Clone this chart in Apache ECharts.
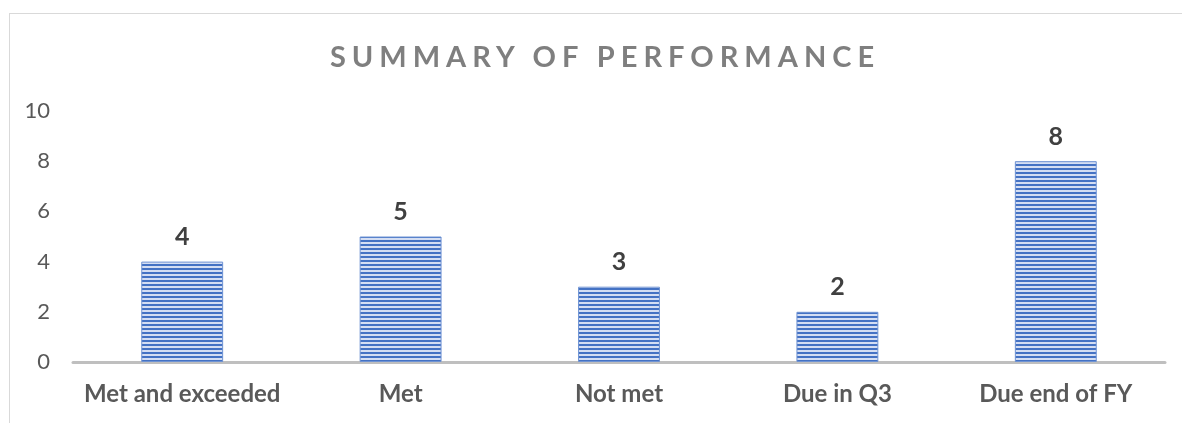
<!DOCTYPE html>
<html>
<head>
<meta charset="utf-8">
<title>Summary of performance</title>
<script src="https://cdn.jsdelivr.net/npm/echarts@6/dist/echarts.min.js"></script>
<style>
  html, body { margin: 0; padding: 0; background: #fff; }
  #wrap { position: relative; width: 1182px; height: 423px; overflow: hidden; }
  #frame { position: absolute; left: 9px; top: 13px; width: 1200px; height: 450px; border: 1px solid #d9d9d9; box-sizing: border-box; }
  #title { position: absolute; left: 14px; width: 1182px; top: 38px; text-align: center;
           font-family: Lato, sans-serif; font-weight: bold; font-size: 29px; letter-spacing: 6px; color: #7f7f7f; }
  #chart { position: absolute; left: 0; top: 0; width: 1182px; height: 423px; }
</style>
</head>
<body>
<div id="wrap">
  <div id="frame"></div>
  <div id="chart"></div>
  <div id="title">SUMMARY OF PERFORMANCE</div>
</div>
<script>
var categories = ['Met and exceeded', 'Met', 'Not met', 'Due in Q3', 'Due end of FY'];
var values = [4, 5, 3, 2, 8];
var yTicks = [0, 2, 4, 6, 8, 10];

// horizontal stripe fill like the original bars
var stripe = document.createElement('canvas');
stripe.width = 4; stripe.height = 4;
var ctx = stripe.getContext('2d');
ctx.fillStyle = '#d4def3'; ctx.fillRect(0, 0, 4, 4);
ctx.fillStyle = '#4472c4'; ctx.fillRect(0, 0, 4, 2);

var chart = echarts.init(document.getElementById('chart'));
chart.setOption({
  animation: false,
  grid: { left: 73, right: 17, top: 111, bottom: 61 },
  xAxis: {
    type: 'category',
    data: categories,
    axisTick: { show: false },
    axisLine: { lineStyle: { color: '#bfbfbf', width: 3 } },
    axisLabel: { interval: 0, color: '#595959', fontFamily: 'Lato', fontWeight: 'bold', fontSize: 24, margin: 20 }
  },
  yAxis: {
    type: 'value',
    min: yTicks[0],
    max: yTicks[yTicks.length - 1],
    interval: 2,
    splitLine: { show: false },
    axisLabel: { color: '#595959', fontFamily: 'Lato', fontSize: 22, margin: 23 }
  },
  series: [{
    type: 'bar',
    data: values,
    barWidth: '37.5%',
    itemStyle: { color: { image: stripe, repeat: 'repeat' }, borderColor: '#6f93d3', borderWidth: 1 },
    label: { show: true, position: 'top', distance: 12, color: '#404040', fontFamily: 'Lato', fontWeight: 'bold', fontSize: 25 }
  }]
});
</script>
</body>
</html>
